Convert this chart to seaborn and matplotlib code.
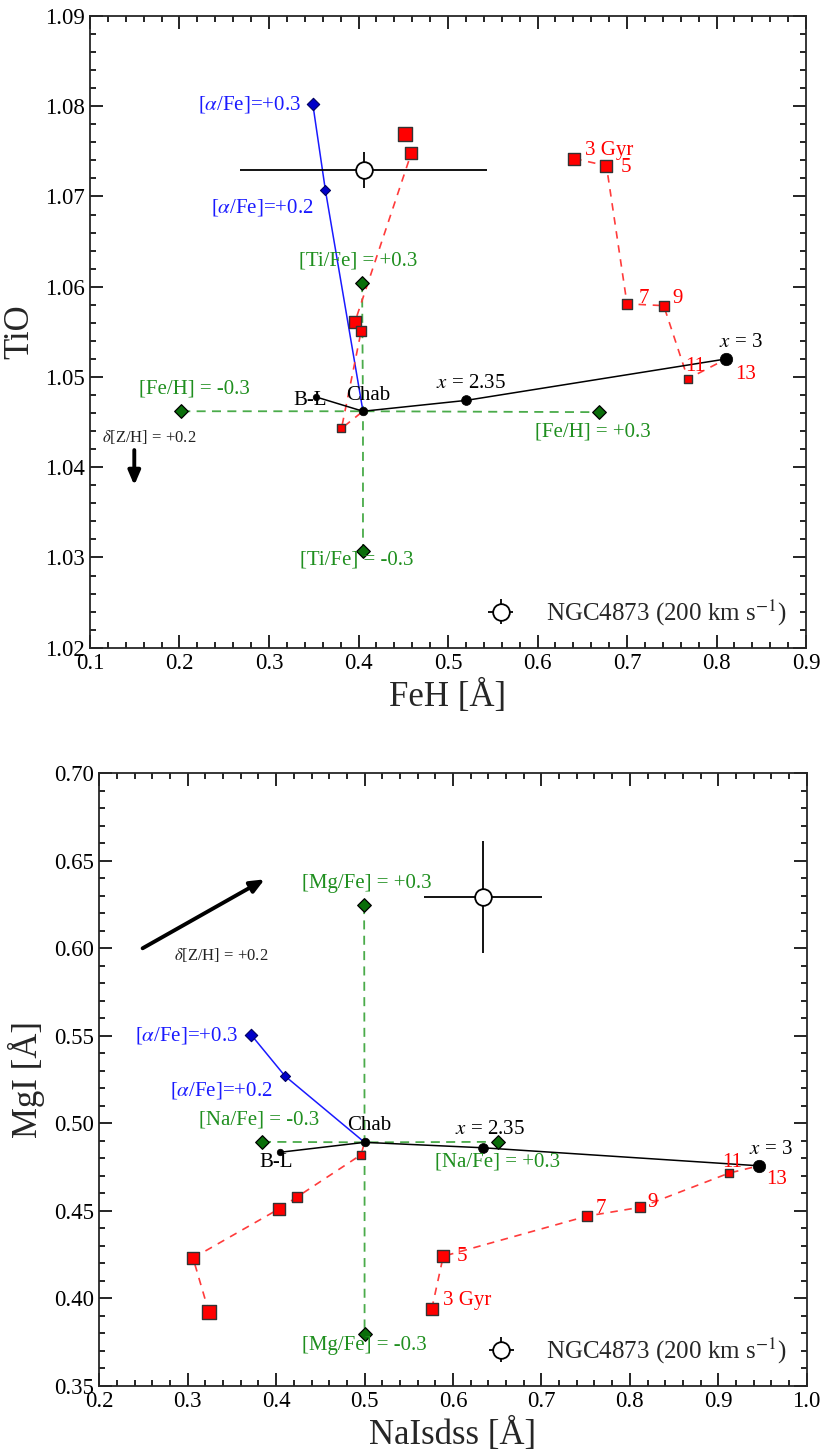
import numpy as np
import pandas as pd
import matplotlib
matplotlib.use("Agg")
import matplotlib.pyplot as plt
from matplotlib.ticker import MultipleLocator
import seaborn as sns

# ---------------- data: top panel (FeH vs TiO) ----------------
imf_names = ["B-L", "Chab", "x = 2.35", "x = 3"]
top_imf_x = [0.352, 0.405, 0.520, 0.811]
top_imf_y = [1.0478, 1.0462, 1.0474, 1.0520]
top_alpha_x = [0.349, 0.363, 0.405]
top_alpha_y = [1.0802, 1.0707, 1.0462]
top_feh_x = [0.202, 0.405, 0.669]
top_feh_y = [1.0462, 1.0462, 1.0461]
top_ti_x = [0.404, 0.405, 0.405]
top_ti_y = [1.0604, 1.0462, 1.0307]
ages = [3, 5, 7, 9, 11, 13]
top_chab_age_x = [0.452, 0.459, 0.396, 0.403, 0.381, 0.405]
top_chab_age_y = [1.0769, 1.0748, 1.0561, 1.0551, 1.0443, 1.0462]
top_x3_age_x = [0.641, 0.677, 0.700, 0.741, 0.768, 0.811]
top_x3_age_y = [1.0742, 1.0734, 1.0581, 1.0579, 1.0498, 1.0520]
top_gal = (0.406, 1.0729)
top_gal_err = (0.138, 0.002)
top_zh_arrow = [(0.1495, 1.0419), (0.1495, 1.0380)]

# ---------------- data: bottom panel (NaIsdss vs MgI) ----------------
bot_imf_x = [0.404, 0.500, 0.634, 0.946]
bot_imf_y = [0.4834, 0.4891, 0.4860, 0.4757]
bot_alpha_x = [0.372, 0.410, 0.500]
bot_alpha_y = [0.5504, 0.5270, 0.4891]
bot_na_x = [0.384, 0.500, 0.6505]
bot_na_y = [0.4894, 0.4891, 0.4894]
bot_mg_x = [0.4995, 0.500, 0.500]
bot_mg_y = [0.6247, 0.4891, 0.3795]
bot_chab_age_x = [0.324, 0.306, 0.403, 0.424, 0.496, 0.500]
bot_chab_age_y = [0.392, 0.423, 0.451, 0.458, 0.482, 0.4891]
bot_x3_age_x = [0.576, 0.589, 0.752, 0.812, 0.912, 0.946]
bot_x3_age_y = [0.394, 0.424, 0.447, 0.452, 0.4715, 0.4757]
bot_gal = (0.634, 0.6294)
bot_gal_err = (0.067, 0.032)
bot_zh_arrow = [(0.249, 0.600), (0.387, 0.6394)]

gal_label = r"NGC4873 (200 km s$^{-1}$)"

# ---------------- style ----------------
sns.set_theme(style="ticks")
plt.rcParams["font.family"] = ["Liberation Serif", "DejaVu Serif"]
plt.rcParams["mathtext.fontset"] = "stix"
plt.rcParams["axes.linewidth"] = 1.3

RED = "#ff0000"
RED_LINE = "#ff3b3b"
GREEN_FILL = "#0a6e0a"
GREEN_LINE = "#4aab4a"
GREEN_TXT = "#1f8f1f"
BLUE = "#1a1aff"
BLUE_FILL = "#0000c8"

age_size = {3: 85, 5: 80, 7: 62, 9: 48, 11: 26}
age_size_top1 = {3: 90, 5: 82, 7: 70, 9: 55, 11: 30}
imf_size = [22, 38, 50, 80]
TXT = 15

fig = plt.figure(figsize=(8.24, 14.5), dpi=100)
ax1 = fig.add_axes([0.1092, 0.5533, 0.8690, 0.4357])
ax2 = fig.add_axes([0.1205, 0.0443, 0.8585, 0.4224])


def line(ax, xs, ys, color, ls="-", lw=1.1, z=2):
    sns.lineplot(x=xs, y=ys, sort=False, estimator=None, color=color,
                 linestyle=ls, lw=lw, ax=ax, zorder=z, legend=False)


def pts(ax, xs, ys, sizes, marker, fc, ec, lw=0.9, z=4):
    for xi, yi, si in zip(xs, ys, sizes):
        sns.scatterplot(x=[xi], y=[yi], s=si, marker=marker, color=fc,
                        edgecolor=ec, linewidth=lw, ax=ax, zorder=z, legend=False)


def lab(ax, text, xy, off, color, ha="center", fs=TXT, va="center"):
    ax.annotate(text, xy=xy, xytext=off, textcoords="offset pixels",
                ha=ha, va=va, color=color, fontsize=fs, zorder=6)


dash_g = (0, (5, 3.5))
dash_r = (0, (4.5, 4))


def panel(ax, imf_x, imf_y, alpha_x, alpha_y, e1x, e1y, e2x, e2y,
          chab_x, chab_y, x3_x, x3_y, gal, gal_err, arrow, sizes1):
    line(ax, e1x, e1y, GREEN_LINE, dash_g, 1.3)
    line(ax, e2x, e2y, GREEN_LINE, dash_g, 1.3)
    line(ax, alpha_x, alpha_y, BLUE, "-", 1.1)
    line(ax, chab_x, chab_y, RED_LINE, dash_r, 1.2)
    line(ax, x3_x, x3_y, RED_LINE, dash_r, 1.2)
    line(ax, imf_x, imf_y, "black", "-", 1.1, 3)
    pts(ax, [e1x[0], e1x[2], e2x[0], e2x[2]], [e1y[0], e1y[2], e2y[0], e2y[2]],
        [48] * 4, "D", GREEN_FILL, "black", 0.9)
    pts(ax, alpha_x[:2], alpha_y[:2], [40, 26], "D", BLUE_FILL, "#000060", 0.8)
    pts(ax, chab_x[:5], chab_y[:5], [sizes1[a] for a in ages[:5]], "s", RED, "#333333", 1.0)
    pts(ax, x3_x[:5], x3_y[:5], [age_size[a] for a in ages[:5]], "s", RED, "#333333", 1.0)
    pts(ax, imf_x, imf_y, imf_size, "o", "black", "black", 0.5, 5)
    ax.errorbar(gal[0], gal[1], xerr=gal_err[0], yerr=gal_err[1], fmt="o",
                mfc="white", mec="black", mew=1.3, ms=12, ecolor="black",
                elinewidth=1.3, capsize=0, zorder=7, label=gal_label)
    ax.annotate("", xy=arrow[1], xytext=arrow[0],
                arrowprops=dict(arrowstyle="-|>,head_length=0.7,head_width=0.3",
                                lw=2.8, color="black", shrinkA=0, shrinkB=0),
                zorder=6)
    ax.tick_params(which="both", direction="in", top=True, right=True,
                   labelsize=16.5, width=1.2, colors="black")
    ax.tick_params(which="major", length=9.5, pad=4)
    ax.tick_params(which="minor", length=4.5)
    ax.legend(loc="lower right", frameon=False, fontsize=18,
              handlelength=1.2, handletextpad=1.2, borderaxespad=0.5,
              borderpad=0.3)


# ---------------- top panel ----------------
panel(ax1, top_imf_x, top_imf_y, top_alpha_x, top_alpha_y, top_feh_x, top_feh_y,
      top_ti_x, top_ti_y, top_chab_age_x, top_chab_age_y, top_x3_age_x, top_x3_age_y,
      top_gal, top_gal_err, top_zh_arrow, age_size_top1)
ax1.set_xlim(0.1, 0.9)
ax1.set_ylim(1.02, 1.09)
ax1.xaxis.set_minor_locator(MultipleLocator(0.02))
ax1.yaxis.set_minor_locator(MultipleLocator(0.002))
ax1.set_xticks([0.1, 0.2, 0.3, 0.4, 0.5, 0.6, 0.7, 0.8, 0.9])
ax1.set_xticklabels(["0.1", "0.2", "0.3", "0.4", "0.5", "0.6", "0.7", "0.8", "0.9"])
ax1.set_yticks([1.02, 1.03, 1.04, 1.05, 1.06, 1.07, 1.08, 1.09])
ax1.set_yticklabels(["1.02", "1.03", "1.04", "1.05", "1.06", "1.07", "1.08", "1.09"])
ax1.set_xlabel("FeH [Å]", fontsize=25, labelpad=4)
ax1.set_ylabel("TiO", fontsize=25, labelpad=6)

lab(ax1, r"[$\alpha$/Fe]=+0.3", (top_alpha_x[0], top_alpha_y[0]), (-12, 0), BLUE, ha="right")
lab(ax1, r"[$\alpha$/Fe]=+0.2", (top_alpha_x[1], top_alpha_y[1]), (-12, -17), BLUE, ha="right")
lab(ax1, "[Ti/Fe] = +0.3", (top_ti_x[0], top_ti_y[0]), (-4, 22), GREEN_TXT)
lab(ax1, "[Ti/Fe] = -0.3", (top_ti_x[2], top_ti_y[2]), (-6, -9), GREEN_TXT)
lab(ax1, "[Fe/H] = -0.3", (top_feh_x[0], top_feh_y[0]), (13, 22), GREEN_TXT)
lab(ax1, "[Fe/H] = +0.3", (top_feh_x[2], top_feh_y[2]), (-6, -20), GREEN_TXT)
lab(ax1, "B-L", (top_imf_x[0], top_imf_y[0]), (-5, -4), "black")
lab(ax1, "Chab", (top_imf_x[1], top_imf_y[1]), (5, 16), "black")
lab(ax1, r"$x$ = 2.35", (top_imf_x[2], top_imf_y[2]), (5, 17), "black")
lab(ax1, r"$x$ = 3", (top_imf_x[3], top_imf_y[3]), (14, 16), "black")
age_off_top = {3: (11, 8), 5: (20, -2), 7: (17, 5), 9: (14, 7), 11: (7, 12), 13: (19, -16)}
for a, xi, yi in zip(ages, top_x3_age_x, top_x3_age_y):
    txt = "3 Gyr" if a == 3 else str(a)
    lab(ax1, txt, (xi, yi), age_off_top[a], "red", ha="left" if a == 3 else "center")
ax1.annotate(r"$\delta$[Z/H] = +0.2", xy=(0.113, 1.0434), ha="left", va="center",
             fontsize=12, color="#222222")

# ---------------- bottom panel ----------------
panel(ax2, bot_imf_x, bot_imf_y, bot_alpha_x, bot_alpha_y, bot_na_x, bot_na_y,
      bot_mg_x, bot_mg_y, bot_chab_age_x, bot_chab_age_y, bot_x3_age_x, bot_x3_age_y,
      bot_gal, bot_gal_err, bot_zh_arrow, age_size_top1)
ax2.set_xlim(0.2, 1.0)
ax2.set_ylim(0.35, 0.70)
ax2.set_xticks([0.2, 0.3, 0.4, 0.5, 0.6, 0.7, 0.8, 0.9, 1.0])
ax2.set_xticklabels(["0.2", "0.3", "0.4", "0.5", "0.6", "0.7", "0.8", "0.9", "1.0"])
ax2.set_yticks([0.35, 0.40, 0.45, 0.50, 0.55, 0.60, 0.65, 0.70])
ax2.set_yticklabels(["0.35", "0.40", "0.45", "0.50", "0.55", "0.60", "0.65", "0.70"])
ax2.xaxis.set_minor_locator(MultipleLocator(0.02))
ax2.yaxis.set_minor_locator(MultipleLocator(0.01))
ax2.set_xlabel("NaIsdss [Å]", fontsize=25, labelpad=4)
ax2.set_ylabel("MgI [Å]", fontsize=25, labelpad=6)

lab(ax2, r"[$\alpha$/Fe]=+0.3", (bot_alpha_x[0], bot_alpha_y[0]), (-13, 0), BLUE, ha="right")
lab(ax2, r"[$\alpha$/Fe]=+0.2", (bot_alpha_x[1], bot_alpha_y[1]), (-12, -14), BLUE, ha="right")
lab(ax2, "[Mg/Fe] = +0.3", (bot_mg_x[0], bot_mg_y[0]), (3, 22), GREEN_TXT)
lab(ax2, "[Mg/Fe] = -0.3", (bot_mg_x[2], bot_mg_y[2]), (0, -11), GREEN_TXT)
lab(ax2, "[Na/Fe] = -0.3", (bot_na_x[0], bot_na_y[0]), (-3, 22), GREEN_TXT)
lab(ax2, "[Na/Fe] = +0.3", (bot_na_x[2], bot_na_y[2]), (0, -20), GREEN_TXT)
lab(ax2, "B-L", (bot_imf_x[0], bot_imf_y[0]), (-4, -10), "black")
lab(ax2, "Chab", (bot_imf_x[1], bot_imf_y[1]), (5, 17), "black")
lab(ax2, r"$x$ = 2.35", (bot_imf_x[2], bot_imf_y[2]), (7, 18), "black")
lab(ax2, r"$x$ = 3", (bot_imf_x[3], bot_imf_y[3]), (12, 16), "black")
age_off_bot = {3: (11, 8), 5: (19, 0), 7: (13, 8), 9: (12, 5), 11: (3, 11), 13: (18, -14)}
for a, xi, yi in zip(ages, bot_x3_age_x, bot_x3_age_y):
    txt = "3 Gyr" if a == 3 else str(a)
    lab(ax2, txt, (xi, yi), age_off_bot[a], "red", ha="left" if a == 3 else "center")
ax2.annotate(r"$\delta$[Z/H] = +0.2", xy=(0.285, 0.596), ha="left", va="center",
             fontsize=12, color="#222222")

fig.savefig("out.png", dpi=100)
